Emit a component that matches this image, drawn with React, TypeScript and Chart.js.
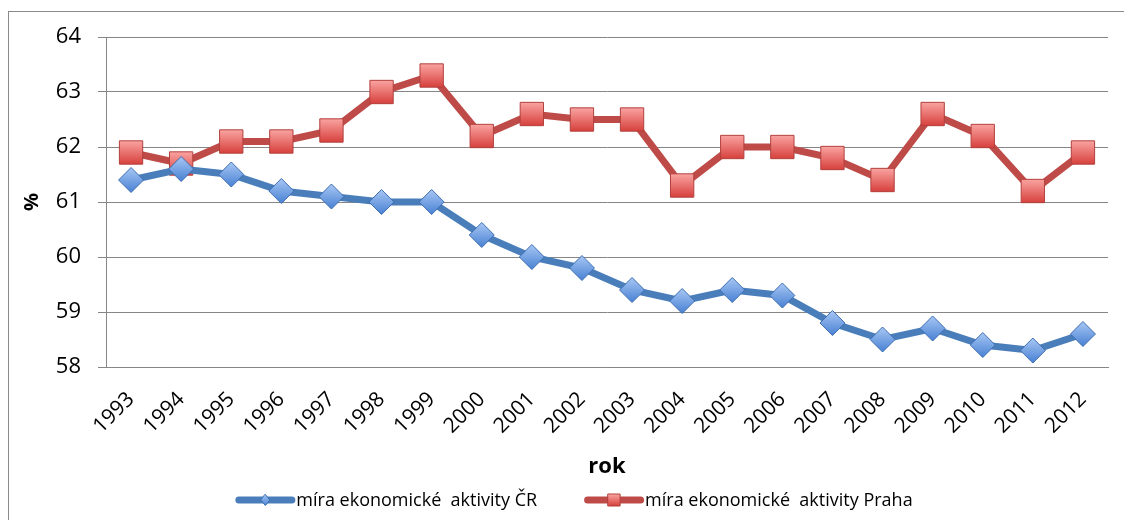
import React, { useEffect, useRef } from 'react';
import { Chart, registerables } from 'chart.js';

Chart.register(...registerables);

const years = ['1993', '1994', '1995', '1996', '1997', '1998', '1999', '2000', '2001', '2002', '2003', '2004', '2005', '2006', '2007', '2008', '2009', '2010', '2011', '2012'];
const crValues = [61.4, 61.6, 61.5, 61.2, 61.1, 61.0, 61.0, 60.4, 60.0, 59.8, 59.4, 59.2, 59.4, 59.3, 58.8, 58.5, 58.7, 58.4, 58.3, 58.6];
const prahaValues = [61.9, 61.7, 62.1, 62.1, 62.3, 63.0, 63.3, 62.2, 62.6, 62.5, 62.5, 61.3, 62.0, 62.0, 61.8, 61.4, 62.6, 62.2, 61.2, 61.9];
const seriesNames = ['míra ekonomické  aktivity ČR', 'míra ekonomické  aktivity Praha'];
const yMin = 58;
const yMax = 64;
const xTitle = 'rok';
const yTitle = '%';

const FONT = "'Open Sans', 'DejaVu Sans', sans-serif";
const GRID = '#868686';

const BLUE = { line: '#4A7EBB', border: '#3D6DB0', top: '#A6C6F3', bottom: '#4A82D4' };
const RED = { line: '#BE4B48', border: '#B2403D', top: '#FAA5A3', bottom: '#D63F3B' };
const COLORS = [BLUE, RED];

// legend layout (canvas coordinates)
const LEGEND_CX = 565;
const LEGEND_CY = 488;
const LEGEND_FONT = 18;
const SAMPLE_W = 60;
const TEXT_GAP = 1;
const ITEM_GAP = 47;

function gradFill(c: typeof BLUE, half: number) {
  return (ctx: any) => {
    const chart = ctx.chart;
    const ys = chart.scales && chart.scales.y;
    if (ctx.type !== 'data' || !ys || !ctx.parsed) return c.bottom;
    const py = ys.getPixelForValue(ctx.parsed.y);
    if (!isFinite(py)) return c.bottom;
    const g = chart.ctx.createLinearGradient(0, py - half, 0, py + half);
    g.addColorStop(0, c.top);
    g.addColorStop(1, c.bottom);
    return g;
  };
}

const legendPlugin = {
  id: 'lineLegend',
  afterDraw(chart: any) {
    const ctx = chart.ctx as CanvasRenderingContext2D;
    ctx.save();
    ctx.font = `${LEGEND_FONT}px ${FONT}`;
    const widths = seriesNames.map((t) => ctx.measureText(t).width);
    const total = widths.reduce((a, b) => a + b, 0) + seriesNames.length * (SAMPLE_W + TEXT_GAP) + ITEM_GAP * (seriesNames.length - 1);
    let x = LEGEND_CX - total / 2;
    const y = LEGEND_CY;
    seriesNames.forEach((t, i) => {
      const c = COLORS[i];
      ctx.strokeStyle = c.line;
      ctx.lineWidth = 7;
      ctx.lineCap = 'round';
      ctx.beginPath();
      ctx.moveTo(x + 3.5, y);
      ctx.lineTo(x + SAMPLE_W - 3.5, y);
      ctx.stroke();
      const cx = x + SAMPLE_W / 2;
      const g = ctx.createLinearGradient(0, y - 6, 0, y + 6);
      g.addColorStop(0, c.top);
      g.addColorStop(1, c.bottom);
      ctx.fillStyle = g;
      ctx.strokeStyle = c.border;
      ctx.lineWidth = 1;
      ctx.beginPath();
      if (i === 0) {
        ctx.moveTo(cx, y - 5.5);
        ctx.lineTo(cx + 4.5, y);
        ctx.lineTo(cx, y + 5.5);
        ctx.lineTo(cx - 4.5, y);
        ctx.closePath();
      } else {
        ctx.rect(cx - 6, y - 6, 12, 12);
      }
      ctx.fill();
      ctx.stroke();
      ctx.fillStyle = '#000';
      ctx.textAlign = 'left';
      ctx.textBaseline = 'middle';
      ctx.fillText(t, x + SAMPLE_W + TEXT_GAP, y + 1);
      x += SAMPLE_W + TEXT_GAP + widths[i] + ITEM_GAP;
    });
    ctx.restore();
  },
};

export default function App() {
  const ref = useRef<HTMLCanvasElement | null>(null);

  useEffect(() => {
    if (!ref.current) return;
    const chart = new Chart(ref.current, {
      type: 'line',
      data: {
        labels: years,
        datasets: [
          {
            label: seriesNames[0],
            data: crValues,
            borderColor: BLUE.line,
            borderWidth: 7,
            pointStyle: 'rectRot',
            pointRadius: 12.5,
            pointBorderWidth: 1,
            pointBorderColor: BLUE.border,
            pointBackgroundColor: gradFill(BLUE, 12),
            tension: 0,
          },
          {
            label: seriesNames[1],
            data: prahaValues,
            borderColor: RED.line,
            borderWidth: 7,
            pointStyle: 'rect',
            pointRadius: 16.5,
            pointBorderWidth: 1,
            pointBorderColor: RED.border,
            pointBackgroundColor: gradFill(RED, 12),
            tension: 0,
          },
        ],
      },
      options: {
        responsive: false,
        animation: false,
        events: [],
        layout: { padding: { top: 25, right: 24, left: 0, bottom: 40 } },
        scales: {
          x: {
            type: 'category',
            offset: true,
            grid: { display: false, drawTicks: false },
            border: { display: true, color: GRID, width: 1 },
            ticks: {
              minRotation: 45,
              maxRotation: 45,
              autoSkip: false,
              padding: 20,
              color: '#000',
              font: { family: FONT, size: 21 },
            },
            title: {
              display: true,
              text: xTitle,
              color: '#000',
              font: { family: FONT, size: 22, weight: 'bold' },
              padding: { top: 0, bottom: 3 },
            },
            afterFit: (s: any) => {
              s.height = 116;
            },
          },
          y: {
            min: yMin,
            max: yMax,
            ticks: { stepSize: 1, padding: 17, color: '#000', font: { family: FONT, size: 22 } },
            grid: { color: GRID, tickLength: 8, drawTicks: true, lineWidth: 1 },
            border: { color: GRID, width: 1 },
            title: {
              display: true,
              text: yTitle,
              color: '#000',
              font: { family: FONT, size: 20, weight: 'bold' },
              padding: { top: 11, bottom: 0 },
            },
            afterFit: (s: any) => {
              s.width = 97;
              s.paddingTop = 0;
              s.paddingBottom = 0;
            },
          },
        },
        plugins: {
          legend: { display: false },
          tooltip: { enabled: false },
        },
      } as any,
      plugins: [legendPlugin],
    });
    return () => chart.destroy();
  }, []);

  return (
    <div
      style={{
        position: 'relative',
        top: 3,
        width: 1123,
        height: 511,
        borderLeft: '1px solid #8a8a8a',
        borderTop: '1px solid #8a8a8a',
        background: '#fff',
      }}
    >
      <canvas ref={ref} width={1123} height={511} style={{ display: 'block' }} />
    </div>
  );
}
